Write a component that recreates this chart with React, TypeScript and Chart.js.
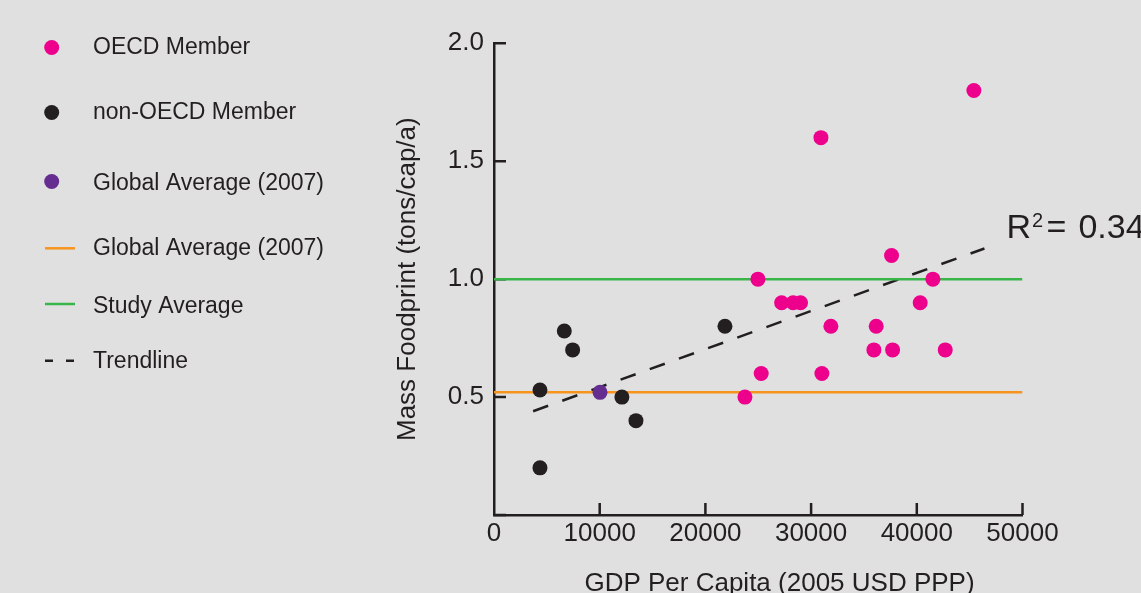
import React, { useEffect, useRef } from 'react';
import { Chart, registerables } from 'chart.js';

Chart.register(...registerables);

// ---- data ----
const oecdGdp = [45400, 30930, 37610, 24970, 41520, 27210, 28300, 29000, 40320, 31870, 36160, 35940, 37710, 42690, 25280, 31020, 23740];
const oecdFootprint = [1.8, 1.6, 1.1, 1.0, 1.0, 0.9, 0.9, 0.9, 0.9, 0.8, 0.8, 0.7, 0.7, 0.7, 0.6, 0.6, 0.5];

const nonOecdGdp = [4350, 6650, 7440, 4350, 12100, 13430, 21850];
const nonOecdFootprint = [0.53, 0.78, 0.7, 0.2, 0.5, 0.4, 0.8];

const globalAvgGdp = [10030];
const globalAvgFootprint = [0.52];

const refLineGdp = [0, 50000];
const globalAvgLine = [0.52, 0.52];
const studyAvgLine = [1.0, 1.0];

const trendGdp = [3700, 46400];
const trendFootprint = [0.44, 1.13];

const xTicks = [0, 10000, 20000, 30000, 40000, 50000];
const yTicks = [0, 0.5, 1.0, 1.5, 2.0];
const yTickLabels = ['', '0.5', '1.0', '1.5', '2.0'];

const rSquaredBase = 'R';
const rSquaredSup = '2';
const rSquaredEq = '=';
const rSquaredValue = '0.34';
const xTitle = 'GDP Per Capita (2005 USD PPP)';
const yTitle = 'Mass Foodprint (tons/cap/a)';

// ---- styles ----
const INK = '#231f20';
const PINK = '#ec008c';
const PURPLE = '#662d91';
const ORANGE = '#f7941d';
const GREEN = '#39b54a';
const BG = '#e0e0e0';
const FONT = '"Liberation Sans", Arial, Helvetica, sans-serif';

const zip = (xs: number[], ys: number[]) => xs.map((x, i) => ({ x, y: ys[i] }));

const decorPlugin = {
  id: 'decor',
  beforeDatasetsDraw(chart: any) {
    const { ctx, scales } = chart;
    const x = scales.x;
    const y = scales.y;
    ctx.save();
    ctx.strokeStyle = INK;
    ctx.lineWidth = 2.5;
    ctx.beginPath();
    for (const v of yTicks) {
      const py = y.getPixelForValue(v);
      ctx.moveTo(x.left, py);
      ctx.lineTo(x.left + 12, py);
    }
    for (const v of xTicks) {
      if (v === 0) continue;
      const px = x.getPixelForValue(v);
      ctx.moveTo(px, y.bottom);
      ctx.lineTo(px, y.bottom - 12);
    }
    ctx.stroke();
    ctx.restore();
  },
  afterDraw(chart: any) {
    const { ctx, scales } = chart;
    const x = scales.x;
    const ds = chart.data.datasets;
    ctx.save();
    ctx.fillStyle = INK;
    ctx.textAlign = 'left';
    ctx.textBaseline = 'alphabetic';

    // legend
    const rows = [
      { kind: 'point', idx: 0, cy: 47.5, base: 53.5 },
      { kind: 'point', idx: 1, cy: 112.5, base: 119 },
      { kind: 'point', idx: 2, cy: 181.5, base: 190 },
      { kind: 'line', idx: 3, cy: 248.3, base: 255 },
      { kind: 'line', idx: 4, cy: 304, base: 312.7 },
      { kind: 'dash', idx: 5, cy: 360.7, base: 367.7 },
    ];
    ctx.font = `23px ${FONT}`;
    for (const r of rows) {
      const d = ds[r.idx];
      if (r.kind === 'point') {
        ctx.fillStyle = d.backgroundColor;
        ctx.beginPath();
        ctx.arc(51.7, r.cy, 7.5, 0, Math.PI * 2);
        ctx.fill();
      } else {
        ctx.strokeStyle = d.borderColor;
        ctx.lineWidth = 2.5;
        ctx.setLineDash(r.kind === 'dash' ? [8, 13] : []);
        ctx.beginPath();
        ctx.moveTo(45, r.cy);
        ctx.lineTo(75, r.cy);
        ctx.stroke();
        ctx.setLineDash([]);
      }
      ctx.fillStyle = INK;
      ctx.fillText(d.label, 93, r.base);
    }

    // x-axis title
    ctx.font = `26px ${FONT}`;
    ctx.textAlign = 'center';
    ctx.fillText(xTitle, 779.5, 590.5);

    // R^2 label
    const rx = x.getPixelForValue(48480);
    const base = 238;
    ctx.textAlign = 'left';
    ctx.font = `34px ${FONT}`;
    ctx.fillText(rSquaredBase, rx, base);
    const wR = ctx.measureText(rSquaredBase).width;
    ctx.font = `20px ${FONT}`;
    ctx.fillText(rSquaredSup, rx + wR + 1, base - 11);
    ctx.font = `34px ${FONT}`;
    ctx.fillText(rSquaredEq, rx + 40, base);
    ctx.fillText(rSquaredValue, rx + 72, base);
    ctx.restore();
  },
};

export default function App() {
  const canvasRef = useRef<HTMLCanvasElement | null>(null);

  useEffect(() => {
    document.body.style.margin = '0';
    document.body.style.background = BG;
    const canvas = canvasRef.current;
    if (!canvas) return;
    const chart = new Chart(canvas, {
      type: 'scatter',
      data: {
        datasets: [
          {
            label: 'OECD Member',
            data: zip(oecdGdp, oecdFootprint),
            backgroundColor: PINK,
            borderColor: PINK,
            borderWidth: 0,
            pointRadius: 7.5,
            showLine: false,
            order: 0,
          },
          {
            label: 'non-OECD Member',
            data: zip(nonOecdGdp, nonOecdFootprint),
            backgroundColor: INK,
            borderColor: INK,
            borderWidth: 0,
            pointRadius: 7.5,
            showLine: false,
            order: 0,
          },
          {
            label: 'Global Average (2007)',
            data: zip(globalAvgGdp, globalAvgFootprint),
            backgroundColor: PURPLE,
            borderColor: PURPLE,
            borderWidth: 0,
            pointRadius: 7.5,
            showLine: false,
            order: 0,
          },
          {
            label: 'Global Average (2007)',
            data: zip(refLineGdp, globalAvgLine),
            borderColor: ORANGE,
            backgroundColor: ORANGE,
            borderWidth: 2.5,
            pointRadius: 0,
            showLine: true,
            order: 1,
          },
          {
            label: 'Study Average',
            data: zip(refLineGdp, studyAvgLine),
            borderColor: GREEN,
            backgroundColor: GREEN,
            borderWidth: 2.5,
            pointRadius: 0,
            showLine: true,
            order: 1,
          },
          {
            label: 'Trendline',
            data: zip(trendGdp, trendFootprint),
            borderColor: INK,
            backgroundColor: INK,
            borderWidth: 2.5,
            borderDash: [16, 15],
            pointRadius: 0,
            showLine: true,
            order: 1,
          },
        ],
      },
      options: {
        animation: false,
        responsive: false,
        maintainAspectRatio: false,
        layout: { padding: { left: 380, right: 118.5, top: 43.3, bottom: 0 } },
        plugins: {
          legend: { display: false },
          tooltip: { enabled: false },
        },
        scales: {
          x: {
            type: 'linear',
            min: 0,
            max: 50000,
            afterFit: (s: any) => { s.height = 78; },
            afterBuildTicks: (s: any) => { s.ticks = xTicks.map((v) => ({ value: v })); },
            ticks: {
              color: INK,
              font: { family: FONT, size: 26 },
              padding: 3,
              maxRotation: 0,
              autoSkip: false,
              callback: (v: any) => String(v),
            },
            grid: { display: false, drawTicks: false },
            border: { display: true, color: INK, width: 2.5 },
            title: { display: false },
          },
          y: {
            type: 'linear',
            min: 0,
            max: 2,
            afterFit: (s: any) => { s.width = 114; },
            afterBuildTicks: (s: any) => { s.ticks = yTicks.map((v) => ({ value: v })); },
            ticks: {
              color: INK,
              font: { family: FONT, size: 26 },
              padding: 10,
              autoSkip: false,
              callback: (_v: any, i: number) => yTickLabels[i],
            },
            grid: { display: false, drawTicks: false },
            border: { display: true, color: INK, width: 2.5 },
            title: {
              display: true,
              text: yTitle,
              color: INK,
              font: { family: FONT, size: 26 },
              padding: { top: 12.4, bottom: 0 },
            },
          },
        },
      },
      plugins: [decorPlugin],
    } as any);
    return () => chart.destroy();
  }, []);

  return (
    <div style={{ position: 'absolute', left: 0, top: 0, width: 1141, height: 593, background: BG, overflow: 'hidden' }}>
      <canvas ref={canvasRef} width={1141} height={593} style={{ display: 'block', width: 1141, height: 593 }} />
    </div>
  );
}
